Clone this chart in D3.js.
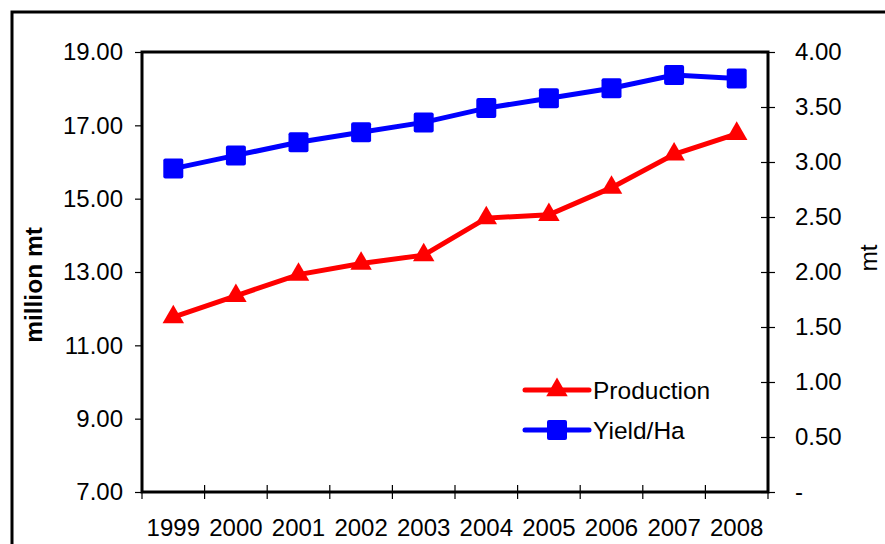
<!DOCTYPE html>
<html>
<head>
<meta charset="utf-8">
<script src="https://cdn.jsdelivr.net/npm/d3@7"></script>
<style>
	body { margin: 0; background: #fff; }
	svg text { font-family: "Liberation Sans", Arial, sans-serif; fill: #000; }
</style>
</head>
<body>
<div id="chart"></div>
<script>
let years = ["1999", "2000", "2001", "2002", "2003", "2004", "2005", "2006", "2007", "2008"];
let production = [11.77, 12.35, 12.93, 13.23, 13.46, 14.47, 14.56, 15.30, 16.21, 16.77];
let yieldHa = [2.94, 3.06, 3.18, 3.27, 3.36, 3.49, 3.58, 3.67, 3.79, 3.76];
let leftTicks = [7, 9, 11, 13, 15, 17, 19];
let rightTicks = [0, 0.5, 1, 1.5, 2, 2.5, 3, 3.5, 4];

let width = 885, height = 544;
let plot = { left: 142, right: 768, top: 52, bottom: 492 };
let fontSize = 24;

let svg = d3.select("#chart")
	.append("svg")
	.attr("width", width)
	.attr("height", height);

// outer chart frame (runs off the right and bottom edge)
svg.append("rect")
	.attr("x", 12).attr("y", 12)
	.attr("width", 900).attr("height", 600)
	.attr("fill", "none")
	.attr("stroke", "#000")
	.attr("stroke-width", 3);

// scales
let xScale = d3.scaleBand().domain(years).range([plot.left, plot.right]);
let yLeft = d3.scaleLinear().domain([7, 19]).range([plot.bottom, plot.top]);
let yRight = d3.scaleLinear().domain([0, 4]).range([plot.bottom, plot.top]);

// left axis
let gl = svg.append("g")
	.attr("transform", `translate(${plot.left}, 0)`)
	.call(d3.axisLeft(yLeft).tickValues(leftTicks).tickSize(7).tickPadding(12)
		.tickFormat(d3.format(".2f")));

// right axis
let gr = svg.append("g")
	.attr("transform", `translate(${plot.right}, 0)`)
	.call(d3.axisRight(yRight).tickValues(rightTicks).tickSize(7).tickPadding(20)
		.tickFormat(d => d == 0 ? "-" : d3.format(".2f")(d)));
gr.selectAll(".tick line").attr("x1", -7);

// bottom axis: ticks at category boundaries, labels at centres
let gb = svg.append("g")
	.attr("transform", `translate(0, ${plot.bottom})`)
	.call(d3.axisBottom(xScale).tickSize(0).tickPadding(27));
gb.selectAll(".tick line").remove();
let bounds = years.map(y => xScale(y)).concat([plot.right]);
gb.selectAll("line.bound")
	.data(bounds)
	.enter().append("line")
	.attr("class", "bound")
	.attr("x1", d => d).attr("x2", d => d)
	.attr("y1", -7).attr("y2", 7)
	.attr("stroke", "#000")
	.attr("stroke-width", 1.2);

svg.selectAll(".domain").remove();
svg.selectAll(".tick line").attr("stroke", "#000").attr("stroke-width", 1.2);
svg.selectAll(".tick text")
	.style("font-size", fontSize + "px")
	.style("font-family", '"Liberation Sans", Arial, sans-serif')
	.attr("fill", "#000");
gb.selectAll(".tick text").attr("dy", "0.71em");

// plot border
svg.append("rect")
	.attr("x", plot.left).attr("y", plot.top)
	.attr("width", plot.right - plot.left)
	.attr("height", plot.bottom - plot.top)
	.attr("fill", "none")
	.attr("stroke", "#000")
	.attr("stroke-width", 3);

// axis titles
svg.append("text")
	.attr("transform", `translate(42, 285) rotate(-90)`)
	.attr("text-anchor", "middle")
	.style("font-size", "24.5px")
	.style("font-weight", "bold")
	.text("million mt");

svg.append("text")
	.attr("transform", `translate(877, 258) rotate(-90)`)
	.attr("text-anchor", "middle")
	.style("font-size", "24.5px")
	.text("mt");

let cx = d => xScale(d) + xScale.bandwidth() / 2;
let triangle = d3.symbol().type(d3.symbolTriangle).size(200);
let square = 20;

// yield line (blue)
svg.append("path")
	.datum(years.map((y, i) => [y, yieldHa[i]]))
	.attr("d", d3.line().x(d => cx(d[0])).y(d => yRight(d[1])))
	.attr("fill", "none")
	.attr("stroke", "#0000ff")
	.attr("stroke-width", 5);

svg.selectAll("rect.yield")
	.data(years.map((y, i) => [y, yieldHa[i]]))
	.enter().append("rect")
	.attr("class", "yield")
	.attr("x", d => cx(d[0]) - square / 2)
	.attr("y", d => yRight(d[1]) - square / 2)
	.attr("width", square).attr("height", square)
	.attr("rx", 2)
	.attr("fill", "#0000ff");

// production line (red)
svg.append("path")
	.datum(years.map((y, i) => [y, production[i]]))
	.attr("d", d3.line().x(d => cx(d[0])).y(d => yLeft(d[1])))
	.attr("fill", "none")
	.attr("stroke", "#ff0000")
	.attr("stroke-width", 5);

svg.selectAll("path.prod")
	.data(years.map((y, i) => [y, production[i]]))
	.enter().append("path")
	.attr("class", "prod")
	.attr("d", triangle)
	.attr("transform", d => `translate(${cx(d[0])}, ${yLeft(d[1])})`)
	.attr("fill", "#ff0000");

// legend
let legend = [
	{ name: "Production", color: "#ff0000", kind: "tri", y: 390 },
	{ name: "Yield/Ha", color: "#0000ff", kind: "sq", y: 430 }
];
legend.forEach(l => {
	svg.append("line")
		.attr("x1", 525).attr("x2", 589)
		.attr("y1", l.y).attr("y2", l.y)
		.attr("stroke", l.color)
		.attr("stroke-width", 5)
		.attr("stroke-linecap", "round");
	if (l.kind == "tri") {
		svg.append("path")
			.attr("d", triangle)
			.attr("transform", `translate(557, ${l.y})`)
			.attr("fill", l.color);
	} else {
		svg.append("rect")
			.attr("x", 557 - square / 2).attr("y", l.y - square / 2)
			.attr("width", square).attr("height", square)
			.attr("rx", 2)
			.attr("fill", l.color);
	}
	svg.append("text")
		.attr("x", 593).attr("y", l.y)
		.attr("dy", "0.36em")
		.style("font-size", "24.5px")
		.text(l.name);
});
</script>
</body>
</html>
